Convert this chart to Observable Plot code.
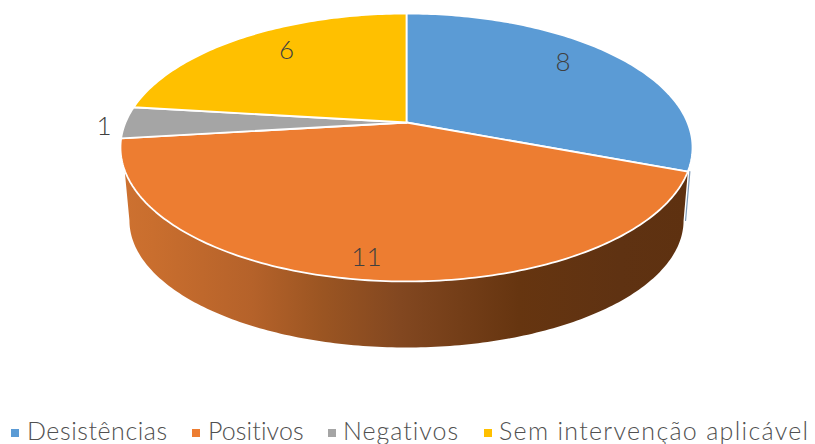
<!DOCTYPE html>
<html>
<head>
<meta charset="utf-8">
<script src="https://cdn.jsdelivr.net/npm/d3@7"></script>
<script src="https://cdn.jsdelivr.net/npm/@observablehq/plot@0.6"></script>
<style>
  html, body { margin: 0; padding: 0; background: #fff; overflow: hidden; }
  #chart { position: relative; width: 815px; height: 444px; font-family: Lato, sans-serif; }
  #chart svg { display: block; position: absolute; left: 0; top: 0; }
  .lg { position: absolute; top: 417px; font-size: 25px; line-height: 27px; font-weight: 300; color: #505050; white-space: nowrap; }
  .sw { position: absolute; top: 429px; width: 8px; height: 8px; }
</style>
</head>
<body>
<div id="chart"></div>
<script>
// Data
const categories = ["Desistências", "Positivos", "Negativos", "Sem intervenção aplicável"];
const values = [8, 11, 1, 6];
const colors = ["#5b9bd5", "#ed7d31", "#a5a5a5", "#ffc000"];

// Layout
const tilt = 0.1866;                         // perspective of the disc
const labelNudge = [[-15, -5], [-6, 6], [-72, 4], [14, -2]]; // px, from the mid-slice anchor
const legendText = [27, 208, 343, 499];
const legendSpacing = [0.55, 0.1, 1.0, 1.3];
const legendSwatch = [11, 192, 328, 484];
const wallStops = [[0, "#cd7130"], [0.05, "#c96e2e"], [0.226, "#b5622a"], [0.35, "#9b5522"], [0.49, "#824720"], [0.7, "#663510"], [0.88, "#5f3212"], [1, "#5e3110"]];

const total = d3.sum(values);
const project = t => {
  const u = Math.sin(t), v = -Math.cos(t), w = 1 - tilt * v;
  return {x: u / w, y: v / w};
};
const deg = Math.PI / 180;
const cum = d3.cumsum(values);
const bounds = [0, ...cum].map(c => c / total * 2 * Math.PI);

const slices = categories.flatMap((name, i) => {
  const a = bounds[i], b = bounds[i + 1];
  const n = Math.max(2, Math.ceil((b - a) / deg));
  const pts = d3.range(n + 1).map(j => ({name, ...project(a + (b - a) * j / n)}));
  return [{name, x: 0, y: 0}, ...pts, {name, x: 0, y: 0}];
});

// Lower rim of the side wall (same units as the disc)
const low = {cy: 0.758, rx: 0.986, ry: 0.982};
const lowAt = t => ({x: low.rx * Math.sin(t), y: low.cy - low.ry * Math.cos(t)});
const edge = bounds[1];
const topFront = d3.range(edge, 250 * deg, deg).map(project);
const lowFront = d3.range(1.5 * Math.PI, 0.5 * Math.PI - deg / 2, -deg).map(lowAt);
const wall = [...topFront, ...lowFront];
const sliver = [project(edge), lowAt(0.5 * Math.PI)];
const labels = categories.map((name, i) => ({
  name, value: values[i],
  ...(p => ({x: p.x * 0.82, y: p.y * 0.82}))(project((bounds[i] + bounds[i + 1]) / 2))
}));

const defs = () => {
  const d = d3.create("svg:defs");
  const g = d.append("linearGradient").attr("id", "wall").attr("x1", 0).attr("x2", 1).attr("y1", 0).attr("y2", 0);
  wallStops.forEach(([o, c]) => g.append("stop").attr("offset", o).attr("stop-color", c));
  return d.node();
};

const plot = Plot.plot({
  width: 815, height: 412,
  margin: 0,
  style: {background: "transparent"},
  x: {domain: [0, 1], range: [406, 687], axis: null},
  y: {domain: [0, 1], range: [122, 251.3], axis: null},
  color: {domain: categories, range: colors},
  marks: [
    defs,
    Plot.line(sliver, {x: "x", y: "y", stroke: "#7f9cba", strokeWidth: 1.2, dx: 2}),
    Plot.line(wall, {x: "x", y: "y", fill: "url(#wall)", stroke: "none"}),
    Plot.line(slices, {x: "x", y: "y", fill: "name", stroke: "white", strokeWidth: 1.8, strokeLinejoin: "round"}),
    ...labels.map((d, i) => Plot.text([d], {
      x: "x", y: "y", text: "value",
      dx: labelNudge[i][0], dy: labelNudge[i][1],
      fontSize: 26, fontWeight: 300, fontFamily: "Lato, sans-serif", fill: "#404040"
    }))
  ]
});

const root = document.getElementById("chart");
root.appendChild(plot);
categories.forEach((name, i) => {
  const s = document.createElement("div");
  s.className = "sw"; s.style.left = legendSwatch[i] + "px"; s.style.background = colors[i];
  root.appendChild(s);
  const t = document.createElement("div");
  t.className = "lg"; t.textContent = name;
  t.style.left = legendText[i] + "px"; t.style.letterSpacing = legendSpacing[i] + "px";
  root.appendChild(t);
});
</script>
</body>
</html>
